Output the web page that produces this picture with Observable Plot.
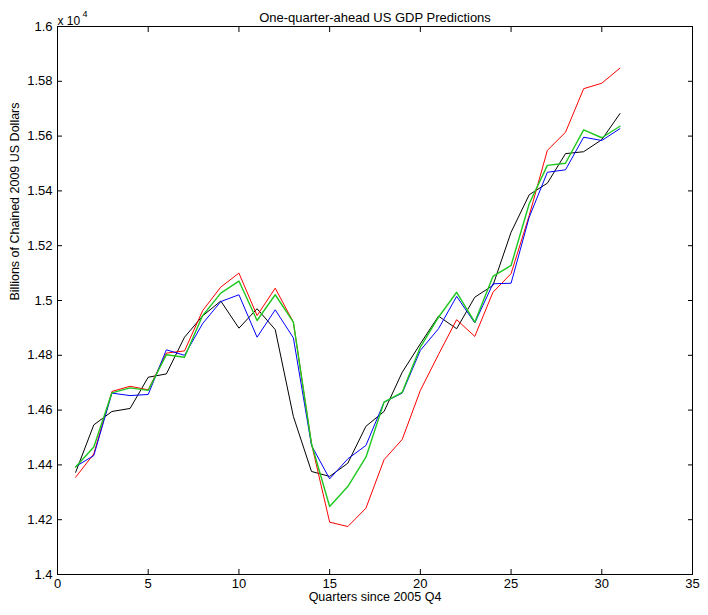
<!DOCTYPE html>
<html>
<head>
<meta charset="utf-8">
<script src="https://cdn.jsdelivr.net/npm/d3@7"></script>
<script src="https://cdn.jsdelivr.net/npm/@observablehq/plot@0.6"></script>
<style>
  html, body { margin: 0; padding: 0; background: #fff; }
</style>
</head>
<body>
<div id="chart"></div>
<script>
const quarters = [1,2,3,4,5,6,7,8,9,10,11,12,13,14,15,16,17,18,19,20,21,22,23,24,25,26,27,28,29,30,31];
const blackSeries = [14373,14546,14595,14606,14720,14732,14866,14944,14998,14899,14970,14894,14577,14376,14358,14406,14541,14595,14738,14842,14943,14897,15012,15055,15249,15386,15428,15536,15543,15587,15682];
const redSeries   = [14355,14440,14668,14687,14674,14808,14816,14963,15049,15100,14945,15045,14921,14477,14191,14175,14242,14419,14493,14672,14803,14930,14869,15030,15098,15310,15548,15614,15773,15793,15848];
const blueSeries  = [14394,14434,14662,14653,14657,14820,14800,14916,14996,15021,14866,14966,14864,14471,14349,14422,14471,14629,14662,14818,14897,15015,14918,15061,15063,15304,15468,15477,15596,15584,15627];
const greenSeries = [14392,14465,14663,14681,14672,14802,14793,14945,15027,15071,14927,15021,14921,14477,14248,14321,14428,14629,14665,14830,14939,15030,14921,15088,15128,15353,15493,15501,15623,15594,15636];
const xTicks = [0,5,10,15,20,25,30,35];
const yTicks = [14000,14200,14400,14600,14800,15000,15200,15400,15600,15800,16000];
const title = "One-quarter-ahead US GDP Predictions";
const xLabel = "Quarters since 2005 Q4";
const yLabel = "Billions of Chained 2009 US Dollars";

const seriesList = [
  {name: "black", values: blackSeries, color: "#000000", width: 1},
  {name: "red", values: redSeries, color: "#ff0000", width: 1},
  {name: "blue", values: blueSeries, color: "#0000ff", width: 1},
  {name: "green", values: greenSeries, color: "#1ec81e", width: 1.4}
];

const lineMarks = seriesList.map(s =>
  Plot.line(quarters.map((q, i) => ({q, v: s.values[i]})), {
    x: "q", y: "v", stroke: s.color, strokeWidth: s.width
  })
);

const yFmt = d => String(+(d / 1e4).toFixed(2));

const chart = Plot.plot({
  width: 708,
  height: 615,
  marginLeft: 57,
  marginRight: 16,
  marginTop: 26,
  marginBottom: 41,
  style: {fontFamily: "'Liberation Sans', Arial, Helvetica, sans-serif", fontSize: "13px", background: "#fff", color: "#000", overflow: "visible"},
  x: {domain: [0, 35], label: null},
  y: {domain: [14000, 16000], label: null},
  marks: [
    ...lineMarks,
    Plot.frame({stroke: "#000", strokeWidth: 1}),
    Plot.axisX({anchor: "bottom", ticks: xTicks, tickSize: -5, tickPadding: 9, tickFormat: d => String(d), label: null, stroke: "#000", fill: "#000", fontSize: 13}),
    Plot.axisX({anchor: "top", ticks: xTicks, tickSize: -5, tickFormat: () => "", label: null, stroke: "#000"}),
    Plot.axisY({anchor: "left", ticks: yTicks, tickSize: -5, tickPadding: 10, tickFormat: yFmt, label: null, stroke: "#000", fill: "#000", fontSize: 13}),
    Plot.axisY({anchor: "right", ticks: yTicks, tickSize: -5, tickFormat: () => "", label: null, stroke: "#000"}),
    Plot.text([title], {frameAnchor: "top", dy: -14, text: d => d, fontSize: 13, fill: "#000"}),
    Plot.text([xLabel], {frameAnchor: "bottom", dy: 26, text: d => d, fontSize: 12.5, fill: "#000"}),
    Plot.text([yLabel], {frameAnchor: "left", dx: -43, rotate: -90, text: d => d, fontSize: 12.5, fill: "#000"}),
    Plot.text(["x 10"], {frameAnchor: "top-left", dx: 0, dy: -10, text: d => d, fontSize: 12, textAnchor: "start", fill: "#000"}),
    Plot.text(["4"], {frameAnchor: "top-left", dx: 25, dy: -16, text: d => d, fontSize: 9, textAnchor: "start", fill: "#000"})
  ]
});
document.getElementById("chart").appendChild(chart);
</script>
</body>
</html>
